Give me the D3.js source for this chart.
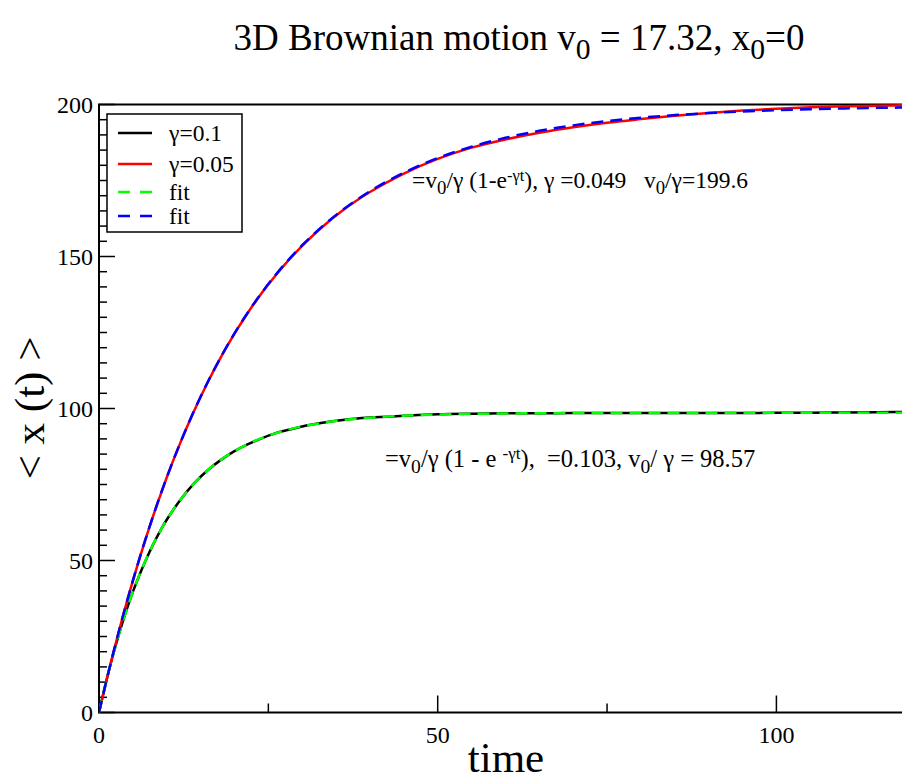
<!DOCTYPE html>
<html><head><meta charset="utf-8">
<script src="https://cdn.jsdelivr.net/npm/d3@7"></script>
<style>body{margin:0;background:#fff;overflow:hidden}svg{display:block}text{font-family:"Liberation Serif","Times New Roman",serif}</style>
</head><body>
<script>
const times = [0,1,2,3,4,5,6,7,8,9,10,12,14,16,18,20,22,24,26,28,30,33,36,40,45,50,55,60,65,70,75,80,85,90,95,100,105,110,115,120];
const gamma01Data = [0,9.65,18.35,26.2,33.3,39.7,45.4,50.6,55.3,59.6,63.4,69.9,75.3,79.6,83.1,86.0,88.3,90.2,91.8,93.0,94.1,95.3,96.2,97.0,97.6,98.1,98.3,98.4,98.4,98.5,98.5,98.5,98.5,98.5,98.5,98.6,98.6,98.7,98.8,98.9];
const gamma005Data = [0,9.55,18.65,27.3,35.5,43.35,50.8,57.9,64.7,71.1,77.3,88.7,99.0,108.4,116.9,124.6,131.6,137.9,143.6,148.8,153.5,159.8,165.2,171.2,177.3,182.1,185.8,188.5,190.7,192.5,194.0,195.2,196.3,197.2,198.0,198.6,199.1,199.4,199.6,199.8];
const fit01 = [0,9.65,18.35,26.2,33.29,39.67,45.44,50.64,55.33,59.56,63.38,69.93,75.26,79.6,83.13,86.01,88.35,90.25,91.8,93.06,94.09,95.28,96.15,96.97,97.61,98.0,98.23,98.36,98.44,98.5,98.53,98.55,98.56,98.56,98.57,98.57,98.57,98.57,98.57,98.57];
const fit005 = [0,9.54,18.64,27.29,35.53,43.37,50.84,57.96,64.73,71.18,77.32,88.74,99.08,108.46,116.97,124.69,131.68,138.02,143.77,148.98,153.71,159.98,165.39,171.48,177.58,182.38,186.12,189.04,191.34,193.13,194.55,195.65,196.51,197.17,197.7,198.11,198.44,198.69,198.89,199.04];
const xTicks = [0,50,100];
const yTicks = [0,50,100,150,200];
const legendLabels = ["γ=0.1","γ=0.05","fit","fit"];

const W = 902, H = 780;
const L = 99, T = 104.5, B = 712.5, R = 99 + 120*6.774;
const svg = d3.select("body").append("svg").attr("width", W).attr("height", H)
  .attr("font-family","Liberation Serif, Times New Roman, serif");
const x = d3.scaleLinear().domain([0,120]).range([L,R]);
const y = d3.scaleLinear().domain([0,200]).range([B,T]);

// frame
svg.append("rect").attr("x",L).attr("y",T).attr("width",R-L).attr("height",B-T)
  .attr("fill","none").attr("stroke","#000").attr("stroke-width",2);

// y ticks
const yMinor = d3.range(0,201,5).filter(v=>v%50!==0);
svg.append("g").selectAll("line").data(yMinor).join("line")
  .attr("x1",L).attr("x2",L+8).attr("y1",d=>y(d)).attr("y2",d=>y(d)).attr("stroke","#000").attr("stroke-width",1.5);
svg.append("g").selectAll("line").data(yTicks).join("line")
  .attr("x1",L).attr("x2",L+16).attr("y1",d=>y(d)).attr("y2",d=>y(d)).attr("stroke","#000").attr("stroke-width",1.5);
svg.append("g").selectAll("text").data(yTicks).join("text")
  .attr("x",L-6).attr("y",d=>y(d)+8).attr("text-anchor","end").attr("font-size",24).text(d=>d);
// x ticks
const xMinor = [25,75];
svg.append("g").selectAll("line").data(xMinor).join("line")
  .attr("x1",d=>x(d)).attr("x2",d=>x(d)).attr("y1",B).attr("y2",B-9).attr("stroke","#000").attr("stroke-width",1.5);
svg.append("g").selectAll("line").data(xTicks).join("line")
  .attr("x1",d=>x(d)).attr("x2",d=>x(d)).attr("y1",B).attr("y2",B-17).attr("stroke","#000").attr("stroke-width",1.5);
svg.append("g").selectAll("text").data(xTicks).join("text")
  .attr("x",d=>x(d)).attr("y",B+30).attr("text-anchor","middle").attr("font-size",24).text(d=>d);

// curves
const line = d3.line().x((d,i)=>x(times[i])).y(d=>y(d)).curve(d3.curveMonotoneX);
const series = [
  {v:gamma01Data, c:"#000", dash:null},
  {v:gamma005Data, c:"#ff0000", dash:null},
  {v:fit01, c:"#00ff00", dash:"12,7"},
  {v:fit005, c:"#0000ff", dash:"12,7"}
];
svg.append("clipPath").attr("id","clip").append("rect").attr("x",L).attr("y",T-3).attr("width",R-L).attr("height",B-T+3);
const g = svg.append("g").attr("clip-path","url(#clip)");
series.forEach(s=>{
  g.append("path").attr("d",line(s.v)).attr("fill","none").attr("stroke",s.c)
    .attr("stroke-width",2.5).attr("stroke-dasharray",s.dash);
});

// legend
const lg = svg.append("g");
lg.append("rect").attr("x",107).attr("y",114).attr("width",135).attr("height",118)
  .attr("fill","#fff").attr("stroke","#000").attr("stroke-width",1.5);
const rowsY = [133,164,192,216];
series.forEach((s,i)=>{
  lg.append("line").attr("x1",118).attr("x2",152).attr("y1",rowsY[i]).attr("y2",rowsY[i])
    .attr("stroke",s.c).attr("stroke-width",2.5).attr("stroke-dasharray",s.dash?"12,10":null);
  lg.append("text").attr("x",169).attr("y",rowsY[i]+8).attr("font-size",23.5).text(legendLabels[i]);
});

// helper for rich text
function rich(sel, parts){
  parts.forEach(p=>{
    const t = sel.append("tspan").text(p.t);
    if(p.sub){t.attr("baseline-shift","-30%").attr("font-size","80%");}
    if(p.sup){t.attr("baseline-shift","45%").attr("font-size","70%");}
  });
}
// title
const title = svg.append("text").attr("x",519).attr("y",50).attr("text-anchor","middle").attr("font-size",37);
rich(title,[{t:"3D Brownian motion v"},{t:"0",sub:true},{t:" = 17.32, x"},{t:"0",sub:true},{t:"=0"}]);

// annotations
const a1 = svg.append("text").attr("x",412).attr("y",188).attr("font-size",23.5).attr("xml:space","preserve");
rich(a1,[{t:"=v"},{t:"0",sub:true},{t:"/γ (1-e"},{t:"-γt",sup:true},{t:"), γ =0.049   v"},{t:"0",sub:true},{t:"/γ=199.6"}]);
const a2 = svg.append("text").attr("x",385).attr("y",467).attr("font-size",24.5).attr("xml:space","preserve");
rich(a2,[{t:"=v"},{t:"0",sub:true},{t:"/γ (1 - e "},{t:"-γt",sup:true},{t:"),  =0.103, v"},{t:"0",sub:true},{t:"/ γ = 98.57"}]);

// axis labels
svg.append("text").attr("x",506).attr("y",772).attr("text-anchor","middle").attr("font-size",43).text("time");
svg.append("text").attr("transform","translate(44,408) rotate(-90)").attr("text-anchor","middle")
  .attr("font-size",43).text("< x (t) >");
</script>
</body></html>
